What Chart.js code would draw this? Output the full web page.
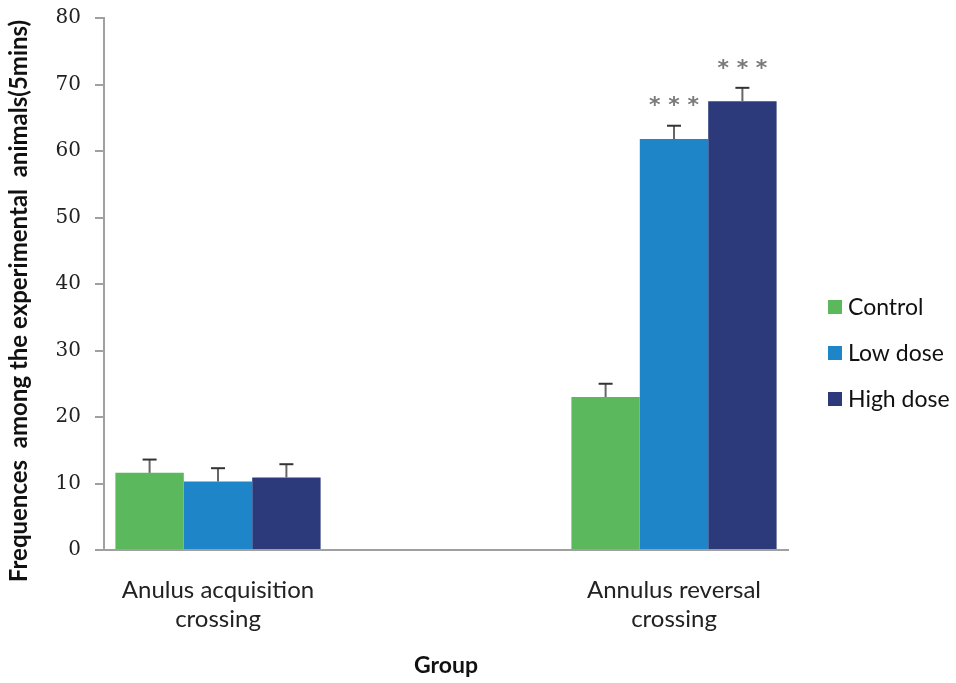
<!DOCTYPE html>
<html>
<head>
<meta charset="utf-8">
<script src="https://cdn.jsdelivr.net/npm/chart.js@4/dist/chart.umd.min.js"></script>
<style>
  html, body { margin: 0; padding: 0; background: #fff; }
  #wrap { width: 956px; height: 683px; }
</style>
</head>
<body>
<div id="wrap"><canvas id="chart" width="956" height="683"></canvas></div>
<script>
// categories (middle one is an empty spacer, the groups sit near the axis ends)
const categories = [['Anulus acquisition', 'crossing'], '', ['Annulus reversal', 'crossing']];
const seriesNames = ['Control', 'Low dose', 'High dose'];
const control = [11.6, null, 23.0];
const lowDose = [10.3, null, 61.8];
const highDose = [10.9, null, 67.5];
const controlErr = [2.0, null, 2.0];
const lowDoseErr = [2.0, null, 2.0];
const highDoseErr = [2.0, null, 2.0];
const stars = [['', null, ''], ['', null, '***'], ['', null, '***']];
const yTicks = [0, 10, 20, 30, 40, 50, 60, 70, 80];
const yTitle = 'Frequences  among the experimental  animals(5mins)';

const colors = ['#5cb85c', '#1e86c8', '#2c3a7b'];
const axisGray = '#a0a0a0';
const textFont = 'Lato, "Open Sans", sans-serif';

// error bars + significance stars
const errorBars = {
    id: 'errorBars',
    afterDatasetsDraw(chart) {
        const ctx = chart.ctx;
        const y = chart.scales.y;
        const errs = [controlErr, lowDoseErr, highDoseErr];
        chart.data.datasets.forEach((ds, di) => {
            const meta = chart.getDatasetMeta(di);
            meta.data.forEach((bar, i) => {
                const v = ds.data[i];
                const e = errs[di][i];
                if (v == null || e == null) return;
                const top = y.getPixelForValue(v + e);
                ctx.save();
                ctx.strokeStyle = '#666';
                ctx.lineWidth = 2;
                ctx.beginPath();
                ctx.moveTo(bar.x, bar.y);
                ctx.lineTo(bar.x, top);
                ctx.stroke();
                ctx.strokeStyle = '#333';
                ctx.beginPath();
                ctx.moveTo(bar.x - 7, top);
                ctx.lineTo(bar.x + 7, top);
                ctx.stroke();
                const s = stars[di][i];
                if (s) {
                    ctx.fillStyle = '#7a7a7a';
                    ctx.font = 'bold 22px "DejaVu Sans", sans-serif';
                    ctx.textAlign = 'center';
                    ctx.textBaseline = 'middle';
                    ctx.fillText(s.split('').join(' '), bar.x, top - 19);
                }
                ctx.restore();
            });
        });
    }
};

// legend at the right and the y title, placed like the original
const sideText = {
    id: 'sideText',
    afterDraw(chart) {
        const ctx = chart.ctx;
        const area = chart.chartArea;
        ctx.save();
        ctx.font = '23px ' + textFont;
        ctx.textBaseline = 'middle';
        ctx.textAlign = 'left';
        chart.data.datasets.forEach((ds, i) => {
            const cy = area.top + 289 + i * 46;
            const x = area.right + 40;
            ctx.fillStyle = ds.backgroundColor;
            ctx.fillRect(x, cy - 7, 14, 14);
            ctx.fillStyle = '#111';
            ctx.fillText(ds.label, x + 20, cy + 1);
        });
        ctx.translate(19, (area.top + area.bottom) / 2 + 17);
        ctx.rotate(-Math.PI / 2);
        ctx.font = 'bold 24px ' + textFont;
        ctx.textAlign = 'center';
        ctx.fillText(yTitle, 0, 0);
        ctx.restore();
    }
};

new Chart(document.getElementById('chart'), {
    type: 'bar',
    data: {
        labels: categories,
        datasets: [
            { label: seriesNames[0], data: control, backgroundColor: colors[0] },
            { label: seriesNames[1], data: lowDose, backgroundColor: colors[1] },
            { label: seriesNames[2], data: highDose, backgroundColor: colors[2] }
        ]
    },
    options: {
        responsive: false,
        animation: false,
        layout: { padding: { left: 4, right: 168, top: 18, bottom: 4 } },
        datasets: { bar: { categoryPercentage: 0.9, barPercentage: 1.0, borderWidth: 0 } },
        plugins: {
            legend: { display: false },
            tooltip: { enabled: false }
        },
        scales: {
            x: {
                grid: { display: false, drawTicks: false },
                border: { display: true, color: axisGray, width: 2 },
                ticks: { color: '#222', font: { family: textFont, size: 24 }, padding: 26, maxRotation: 0, autoSkip: false },
                title: { display: true, text: 'Group', color: '#111', font: { family: textFont, size: 23, weight: 'bold' }, padding: { top: 12, bottom: 0 } },
                afterFit(scale) {
                    scale.height = 683 - 550 - 4;
                    scale.paddingLeft = 0;
                    scale.paddingRight = 0;
                }
            },
            y: {
                min: 0,
                max: 80,
                afterBuildTicks(scale) { scale.ticks = yTicks.map(v => ({ value: v })); },
                grid: { drawOnChartArea: false, drawTicks: true, tickLength: 9, color: axisGray, lineWidth: 2 },
                border: { display: true, color: axisGray, width: 2 },
                ticks: { color: '#222', font: { family: '"DejaVu Serif", serif', size: 20 }, padding: 14 },
                title: { display: false },
                afterFit(scale) {
                    scale.width = 104 - 4;
                    scale.paddingTop = 0;
                    scale.paddingBottom = 0;
                }
            }
        }
    },
    plugins: [errorBars, sideText]
});
</script>
</body>
</html>
